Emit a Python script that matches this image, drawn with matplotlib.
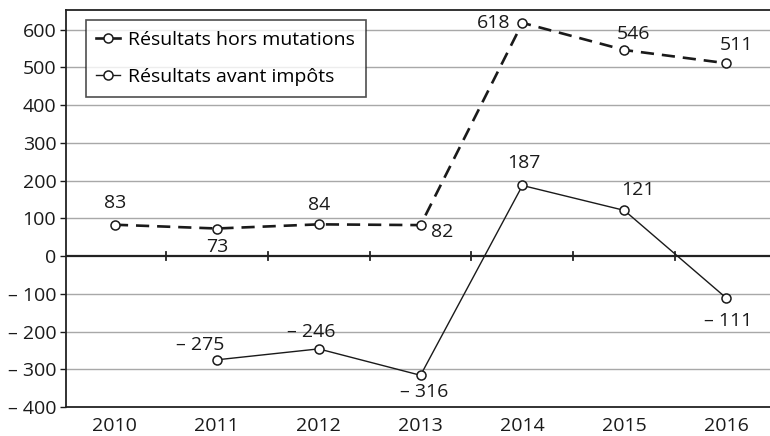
import matplotlib
matplotlib.use("Agg")
from matplotlib import pyplot as plt
from matplotlib.lines import Line2D
from matplotlib.ticker import FuncFormatter

plt.rcParams['font.family'] = ['Open Sans', 'DejaVu Sans']

years = ['2010', '2011', '2012', '2013', '2014', '2015', '2016']
hors_mutations = [83, 73, 84, 82, 618, 546, 511]
avant_impots = [None, -275, -246, -316, 187, 121, -111]
series_names = ['Résultats hors mutations', 'Résultats avant impôts']

# label offsets in pixels for each data label
off_hors = [(0, 22), (0, -18), (0, 19), (22, -7), (-29, 0), (9, 16), (10, 18)]
off_avant = [None, (-17, 15), (-7, 17), (4, -17), (1, 22), (14, 20), (2, -23)]


def fmt(v):
    return f"\u2013 {abs(int(v))}" if v < 0 else f"{int(v)}"


FS = 14

fig = plt.figure(figsize=(7.7, 4.36), dpi=100)
ax = fig.add_axes([66 / 770, 29 / 436, 1 - 66 / 770, 397 / 436])

x = list(range(len(years)))
xa = [i for i, v in zip(x, avant_impots) if v is not None]
ya = [v for v in avant_impots if v is not None]

for y in range(-300, 700, 100):
    if y != 0:
        ax.axhline(y, color='#a8a8a8', lw=1, zorder=0)
ax.axhline(0, color='#222222', lw=1.6, zorder=1)
for i in range(len(years) - 1):
    ax.plot([i + 0.5, i + 0.5], [-10, 10], color='#222222', lw=1.3, zorder=1)

mk = dict(marker='o', ms=6.5, mfc='white', mec='#1a1a1a', mew=1.1)
ax.plot(x, hors_mutations, color='#1a1a1a', lw=1.9, ls=(0, (5, 3)), zorder=3, **mk)
ax.plot(xa, ya, color='#1a1a1a', lw=1.0, zorder=3, **mk)

for i, v in enumerate(hors_mutations):
    ax.annotate(fmt(v), (i, v), xytext=off_hors[i], textcoords='offset pixels',
                ha='center', va='center', fontsize=FS, color='#1a1a1a')
for i, v in enumerate(avant_impots):
    if v is None:
        continue
    ax.annotate(fmt(v), (i, v), xytext=off_avant[i], textcoords='offset pixels',
                ha='center', va='center', fontsize=FS, color='#1a1a1a')

ax.set_xlim(-0.48, 6.43)
ax.set_ylim(-400, 652)
ax.set_xticks(x)
ax.set_xticklabels(years)
ax.set_yticks(range(-400, 700, 100))
ax.yaxis.set_major_formatter(FuncFormatter(lambda v, p: fmt(v)))
ax.tick_params(axis='x', length=0, pad=7, labelsize=FS, colors='#1a1a1a')
ax.tick_params(axis='y', length=4, width=1, pad=3, labelsize=FS, colors='#1a1a1a')

ax.spines['right'].set_visible(False)
for s in ['left', 'bottom', 'top']:
    ax.spines[s].set_color('#222222')
    ax.spines[s].set_linewidth(1.3)

# legend handles drawn solid, like the original
handles = [Line2D([], [], color='#1a1a1a', lw=1.9, **mk),
           Line2D([], [], color='#1a1a1a', lw=1.0, **mk)]
leg = ax.legend(handles, series_names, loc='upper left',
                bbox_to_anchor=(0.028, 0.975), fontsize=FS,
                frameon=True, fancybox=False, edgecolor='#222222',
                handlelength=1.2, handletextpad=0.45, borderpad=0.55,
                labelspacing=1.0, borderaxespad=0)
leg.get_frame().set_linewidth(1.2)

fig.savefig('out.png', dpi=100)
